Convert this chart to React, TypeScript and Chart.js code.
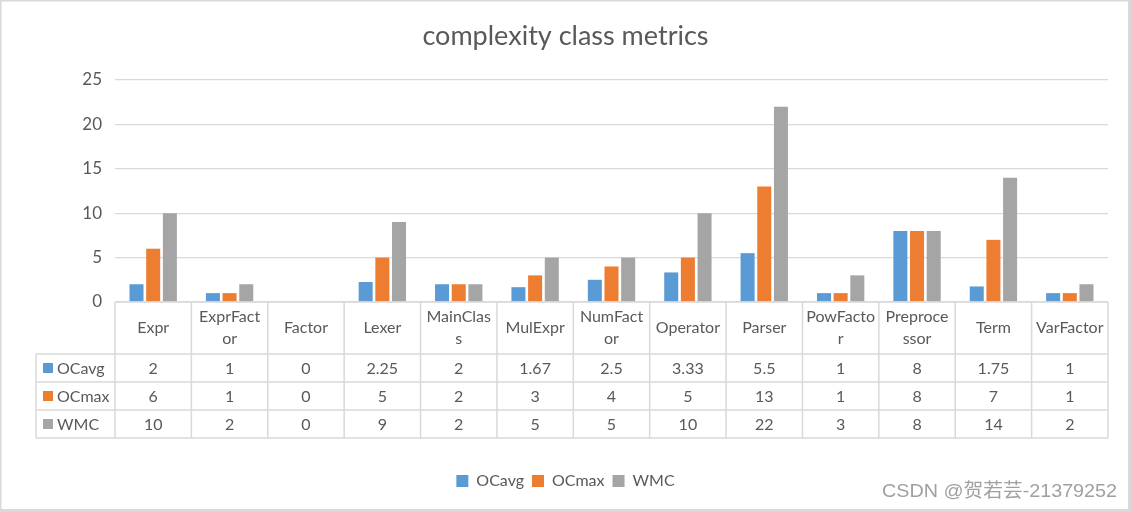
import React, { useEffect, useRef } from "react";
import { Chart, registerables } from "chart.js";

Chart.register(...registerables);

const chartTitle = "complexity class metrics";
const categories = ["Expr", "ExprFactor", "Factor", "Lexer", "MainClass", "MulExpr", "NumFactor", "Operator", "Parser", "PowFactor", "Preprocessor", "Term", "VarFactor"];
const categoryLines: string[][] = [["Expr"], ["ExprFact", "or"], ["Factor"], ["Lexer"], ["MainClas", "s"], ["MulExpr"], ["NumFact", "or"], ["Operator"], ["Parser"], ["PowFacto", "r"], ["Preproce", "ssor"], ["Term"], ["VarFactor"]];
const seriesNames = ["OCavg", "OCmax", "WMC"];
const ocavg = [2, 1, 0, 2.25, 2, 1.67, 2.5, 3.33, 5.5, 1, 8, 1.75, 1];
const ocmax = [6, 1, 0, 5, 2, 3, 4, 5, 13, 1, 8, 7, 1];
const wmc = [10, 2, 0, 9, 2, 5, 5, 10, 22, 3, 8, 14, 2];
const seriesColors = ["#5b9bd5", "#ed7d31", "#a5a5a5"];
const yTicks = [0, 5, 10, 15, 20, 25];
const watermark = "CSDN @贺若芸-21379252";

const FONT = "Lato, 'Open Sans', sans-serif";
const TEXT = "#595959";
const LINE = "#d9d9d9";

const framePlugin = {
  id: "frame",
  beforeDraw(chart: any) {
    const { ctx, width, height } = chart;
    ctx.save();
    ctx.fillStyle = "#ffffff";
    ctx.fillRect(0, 0, width, height);
    ctx.fillStyle = LINE;
    ctx.fillRect(0, 0, width, 1.5);
    ctx.fillRect(0, 0, 1.5, height);
    ctx.fillRect(1128, 0, 3, height);
    ctx.fillRect(0, 509, width, 3);
    ctx.restore();
  },
};

const tablePlugin = {
  id: "dataTable",
  afterDraw(chart: any) {
    const { ctx, chartArea } = chart;
    const xs = chart.scales.x;
    const n = categories.length;
    const left = chartArea.left;
    const right = chartArea.right;
    const colW = (right - left) / n;
    const top = chartArea.bottom;
    const headH = 52;
    const rowH = 28;
    const rowLeft = 36;
    const bottom = top + headH + rowH * seriesNames.length;
    ctx.save();
    ctx.strokeStyle = LINE;
    ctx.lineWidth = 1.5;
    ctx.beginPath();
    ctx.moveTo(left, top);
    ctx.lineTo(right, top);
    for (let r = 0; r <= seriesNames.length; r++) {
      const y = top + headH + r * rowH;
      ctx.moveTo(rowLeft, y);
      ctx.lineTo(right, y);
    }
    for (let k = 0; k <= n; k++) {
      const x = left + k * colW;
      ctx.moveTo(x, top);
      ctx.lineTo(x, bottom);
    }
    ctx.moveTo(rowLeft, top + headH);
    ctx.lineTo(rowLeft, bottom);
    ctx.stroke();

    ctx.fillStyle = TEXT;
    ctx.font = "16px " + FONT;
    ctx.textAlign = "center";
    ctx.textBaseline = "middle";
    categoryLines.forEach((lines, i) => {
      const cx = xs.getPixelForValue(i);
      const cy = top + headH / 2;
      if (lines.length === 1) {
        ctx.fillText(lines[0], cx, cy);
      } else {
        ctx.fillText(lines[0], cx, cy - 11);
        ctx.fillText(lines[1], cx, cy + 11);
      }
    });
    chart.data.datasets.forEach((ds: any, r: number) => {
      const cy = top + headH + r * rowH + rowH / 2;
      ds.data.forEach((v: number, i: number) => {
        ctx.fillStyle = TEXT;
        ctx.textAlign = "center";
        ctx.fillText(String(v), xs.getPixelForValue(i), cy + 1);
      });
      ctx.fillStyle = ds.backgroundColor;
      ctx.fillRect(43, cy - 5, 10, 10);
      ctx.fillStyle = TEXT;
      ctx.textAlign = "left";
      ctx.fillText(ds.label, 57, cy + 1);
    });

    // watermark
    ctx.font = "19px 'Liberation Sans', 'Noto Sans CJK SC', sans-serif";
    const w = ctx.measureText(watermark).width;
    const target = 235;
    ctx.translate(1117, 492);
    ctx.scale(target / w, 1);
    ctx.fillStyle = "#a0a0a0";
    ctx.textAlign = "right";
    ctx.textBaseline = "middle";
    ctx.fillText(watermark, 0, 0);
    ctx.restore();
  },
};

export default function App() {
  const ref = useRef<HTMLCanvasElement>(null);
  useEffect(() => {
    const values = [ocavg, ocmax, wmc];
    const chart = new Chart(ref.current as HTMLCanvasElement, {
      type: "bar",
      data: {
        labels: categories,
        datasets: seriesNames.map((name, i) => ({
          label: name,
          data: values[i],
          backgroundColor: seriesColors[i],
          borderWidth: 0,
          categoryPercentage: 0.655,
          barPercentage: 0.84,
        })),
      },
      options: {
        responsive: false,
        animation: false,
        devicePixelRatio: 1,
        layout: { padding: { left: 23, right: 23, top: 0, bottom: 13 } },
        plugins: {
          title: {
            display: true,
            text: chartTitle,
            color: TEXT,
            font: { family: FONT, size: 27, weight: "normal", lineHeight: 1.2 },
            padding: { top: 20, bottom: 27.6 },
          },
          legend: {
            display: true,
            position: "bottom",
            labels: {
              boxWidth: 12,
              boxHeight: 12,
              padding: 8,
              color: TEXT,
              font: { family: FONT, size: 16 },
            },
          },
          tooltip: { enabled: false },
        },
        scales: {
          x: {
            display: true,
            grid: { display: false },
            border: { display: false },
            ticks: { display: false },
            afterFit(scale: any) {
              scale.height = 163;
            },
          },
          y: {
            min: 0,
            max: 25,
            afterBuildTicks(scale: any) {
              scale.ticks = yTicks.map((v) => ({ value: v }));
            },
            grid: { color: LINE, lineWidth: 1.3, drawTicks: false },
            border: { display: false },
            ticks: { color: TEXT, padding: 13, font: { family: FONT, size: 17 } },
            afterFit(scale: any) {
              scale.width = 92;
            },
          },
        },
      },
      plugins: [framePlugin, tablePlugin],
    } as any);
    return () => chart.destroy();
  }, []);
  return (
    <div style={{ position: "fixed", left: 0, top: 0, width: 1131, height: 512, background: "#fff" }}>
      <canvas ref={ref} width={1131} height={512} style={{ display: "block" }} />
    </div>
  );
}
